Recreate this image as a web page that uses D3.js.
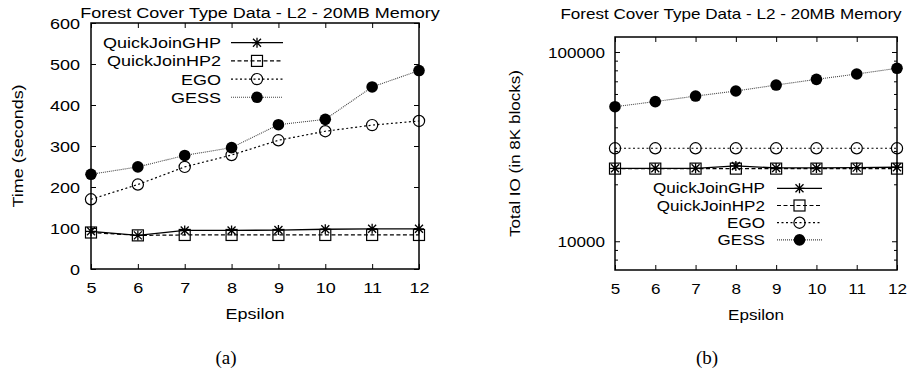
<!DOCTYPE html>
<html>
<head>
<meta charset="utf-8">
<script src="https://cdn.jsdelivr.net/npm/d3@7"></script>
<style>
  body { margin: 0; background: #fff; }
  svg { display: block; font-family: "Liberation Sans", Arial, sans-serif; }
</style>
</head>
<body>
<div id="chart"></div>
<script>
// values
var epsilon = [5, 6, 7, 8, 9, 10, 11, 12];
var seriesNames = ["QuickJoinGHP", "QuickJoinHP2", "EGO", "GESS"];

var timeGHP  = [92, 82, 94, 94, 95, 97, 98, 98];
var timeHP2  = [89, 82, 83, 83, 83, 83, 83, 83];
var timeEGO  = [170, 206, 249, 278, 314, 336, 351, 361];
var timeGESS = [231, 249, 277, 296, 352, 365, 444, 484];
var timeTicks = [0, 100, 200, 300, 400, 500, 600];

var ioGHP  = [24300, 24300, 24300, 25000, 24400, 24400, 24500, 24600];
var ioHP2  = [24200, 24200, 24200, 24200, 24200, 24200, 24200, 24200];
var ioEGO  = [31000, 31000, 31000, 31000, 31000, 31000, 31000, 31000];
var ioGESS = [51400, 54700, 58500, 62200, 66900, 71700, 76500, 82000];
var ioTicks = [10000, 100000];
var ioMinorTicks = [8000, 9000, 20000, 30000, 40000, 50000, 60000, 70000, 80000, 90000];

var titleText = "Forest Cover Type Data - L2 - 20MB Memory";

var svg = d3.select("#chart").append("svg")
    .attr("width", 912)
    .attr("height", 375);

// line styles per series (gnuplot look)
var styles = [
    { dash: null, color: "#000", width: 1.3, mark: "star" },
    { dash: "4,2.5", color: "#000", width: 1.2, mark: "square" },
    { dash: "2,2.5", color: "#000", width: 1.2, mark: "circle" },
    { dash: "1,1", color: "#444", width: 1.1, mark: "dot" }
];

function drawMarker(g, kind, cx, cy) {
    if (kind == "star") {
        g.append("path")
            .attr("d", `M${cx - 5},${cy}H${cx + 5}M${cx},${cy - 5}V${cy + 5}M${cx - 4},${cy - 4}L${cx + 4},${cy + 4}M${cx - 4},${cy + 4}L${cx + 4},${cy - 4}`)
            .attr("stroke", "#000").attr("stroke-width", 1.3).attr("fill", "none");
    } else if (kind == "square") {
        g.append("rect")
            .attr("x", cx - 5.5).attr("y", cy - 5.5)
            .attr("width", 11).attr("height", 11)
            .attr("stroke", "#000").attr("stroke-width", 1.2).attr("fill", "none");
    } else if (kind == "circle") {
        g.append("circle")
            .attr("cx", cx).attr("cy", cy).attr("r", 5.6)
            .attr("stroke", "#000").attr("stroke-width", 1.2).attr("fill", "none");
    } else {
        g.append("circle")
            .attr("cx", cx).attr("cy", cy).attr("r", 5.8)
            .attr("fill", "#000");
    }
}

// text with a little horizontal stretch, like the wide font of the original
function wideText(g, x, y, str, size, sx, anchor, rotate) {
    var t = "translate(" + x + "," + y + ")" + (rotate ? " rotate(-90)" : "") + " scale(" + sx + ",1)";
    return g.append("text")
        .attr("transform", t)
        .attr("text-anchor", anchor)
        .attr("font-size", size + "px")
        .attr("fill", "#000")
        .text(str);
}

function drawPanel(p) {
    var g = svg.append("g");
    var x = d3.scaleLinear().domain([5, 12]).range([p.left, p.right]);
    var y = p.yScale;

    // mirrored inward ticks on all four sides
    g.append("g").attr("transform", "translate(0," + p.bottom + ")")
        .call(d3.axisBottom(x).tickValues(epsilon).tickSize(-5).tickSizeOuter(0).tickFormat(d3.format("d")))
        .call(a => a.select(".domain").remove())
        .selectAll("text")
        .attr("y", null).attr("dy", null)
        .attr("transform", "translate(0,23.5) scale(" + p.sx + ",1)")
        .attr("font-size", p.font + "px")
        .attr("font-family", "Liberation Sans, Arial, sans-serif");
    g.append("g").attr("transform", "translate(0," + p.top + ")")
        .call(d3.axisTop(x).tickValues(epsilon).tickSize(-5).tickSizeOuter(0).tickFormat(""))
        .call(a => a.select(".domain").remove());

    g.append("g").attr("transform", "translate(" + p.left + ",0)")
        .call(d3.axisLeft(y).tickValues(p.ticks).tickSize(-5).tickSizeOuter(0).tickFormat(d3.format("d")))
        .call(a => a.select(".domain").remove())
        .selectAll("text")
        .attr("x", null).attr("dy", "0.36em")
        .attr("transform", "translate(" + (-p.labelGap) + ",0) scale(" + p.sx + ",1)")
        .attr("font-size", p.font + "px")
        .attr("font-family", "Liberation Sans, Arial, sans-serif");
    g.append("g").attr("transform", "translate(" + p.right + ",0)")
        .call(d3.axisRight(y).tickValues(p.ticks).tickSize(-5).tickSizeOuter(0).tickFormat(""))
        .call(a => a.select(".domain").remove());

    if (p.minor) {
        g.append("g").attr("transform", "translate(" + p.left + ",0)")
            .call(d3.axisLeft(y).tickValues(p.minor).tickSize(-3).tickSizeOuter(0).tickFormat(""))
            .call(a => a.select(".domain").remove());
        g.append("g").attr("transform", "translate(" + p.right + ",0)")
            .call(d3.axisRight(y).tickValues(p.minor).tickSize(-3).tickSizeOuter(0).tickFormat(""))
            .call(a => a.select(".domain").remove());
    }
    g.selectAll(".tick line").attr("stroke", "#000").attr("stroke-width", 1);

    // series lines and points
    var line = d3.line().x((d, i) => x(epsilon[i])).y(d => y(d));
    p.series.forEach(function(vals, k) {
        var s = styles[k];
        g.append("path")
            .attr("d", line(vals))
            .attr("fill", "none")
            .attr("stroke", s.color)
            .attr("stroke-width", s.width)
            .attr("stroke-dasharray", s.dash);
        vals.forEach(function(v, i) {
            drawMarker(g, s.mark, x(epsilon[i]), y(v));
        });
    });

    // plot frame
    g.append("rect")
        .attr("x", p.left).attr("y", p.top)
        .attr("width", p.right - p.left).attr("height", p.bottom - p.top)
        .attr("fill", "none").attr("stroke", "#000").attr("stroke-width", 1.5);

    // legend
    seriesNames.forEach(function(name, k) {
        var s = styles[k];
        var ly = p.legY + k * p.legStep;
        wideText(g, p.legTextX, ly, name, p.font, p.sx, "end").attr("dy", "0.36em");
        g.append("line")
            .attr("x1", p.legX1).attr("x2", p.legX2)
            .attr("y1", ly).attr("y2", ly)
            .attr("stroke", s.color)
            .attr("stroke-width", s.width)
            .attr("stroke-dasharray", s.dash);
        drawMarker(g, s.mark, (p.legX1 + p.legX2) / 2, ly);
    });

    // titles
    wideText(g, p.titleX, p.titleY, titleText, p.font, p.sx, "middle");
    wideText(g, (p.left + p.right) / 2, p.bottom + 50, "Epsilon", p.font, p.sx, "middle");
    wideText(g, p.ylabX, (p.top + p.bottom) / 2, p.ylab, p.font, p.sx, "middle", true)
        .attr("dy", "0.36em");
    g.append("text")
        .attr("x", p.capX).attr("y", 364)
        .attr("text-anchor", "middle")
        .attr("font-family", "Liberation Serif, DejaVu Serif, serif")
        .attr("font-size", "19px")
        .text(p.caption);
}

drawPanel({
    left: 91, right: 419, top: 23, bottom: 269,
    yScale: d3.scaleLinear().domain([0, 600]).range([269, 23]),
    ticks: timeTicks, minor: null,
    series: [timeGHP, timeHP2, timeEGO, timeGESS],
    font: 15, sx: 1.2, labelGap: 11,
    legTextX: 221, legX1: 231, legX2: 283, legY: 42.7, legStep: 18.2,
    titleX: 260, titleY: 17.5,
    ylab: "Time (seconds)", ylabX: 18,
    caption: "(a)", capX: 226
});

drawPanel({
    left: 615, right: 897, top: 37, bottom: 270,
    yScale: d3.scaleLog().domain([7050, 120000]).range([270, 37]),
    ticks: ioTicks, minor: ioMinorTicks,
    series: [ioGHP, ioHP2, ioEGO, ioGESS],
    font: 14, sx: 1.22, labelGap: 10,
    legTextX: 765, legX1: 777, legX2: 822, legY: 188.3, legStep: 17.2,
    titleX: 731, titleY: 19,
    ylab: "Total IO (in 8K blocks)", ylabX: 515,
    caption: "(b)", capX: 707
});
</script>
</body>
</html>
